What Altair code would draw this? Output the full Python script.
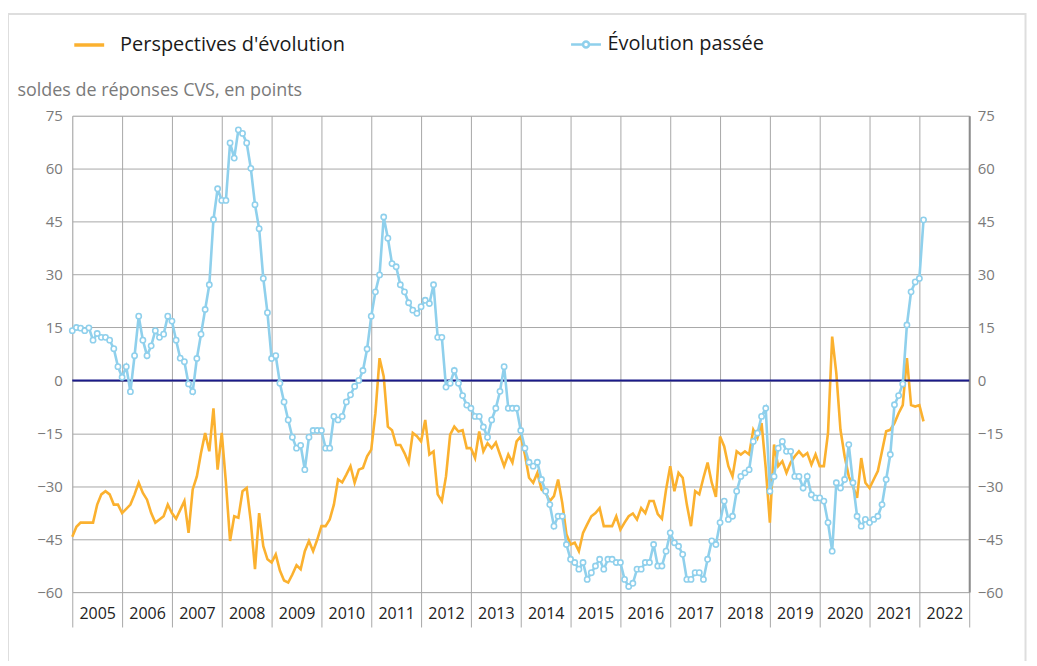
import altair as alt
import pandas as pd

FONT = "Open Sans"
ORANGE = "#fbb12f"
BLUE = "#8fd0ec"
NAVY = "#1a1a8a"
GRID = "#a8a8a8"

series_orange = "Perspectives d'évolution"
series_blue = "Évolution passée"

# Perspectives d'évolution (monthly, Jan 2005 - Feb 2022)
perspectives = [
    -44.3, -41.5, -40.3, -40.3, -40.3, -40.3, -35.2, -32.3, -31.4, -32.3, -35.2, -35.2,
    -37.6, -36.4, -35.2, -32.3, -29.0, -31.9, -33.8, -37.6, -40.3, -39.4, -38.5, -35.2,
    -37.6, -39.2, -36.7, -34.2, -43.2, -30.9, -27.2, -20.6, -14.9, -20.1, -7.9, -25.3,
    -14.9, -29.0, -45.5, -38.5, -38.9, -31.4, -30.5, -40.0, -53.5, -37.6, -47.0, -50.7,
    -51.6, -49.3, -53.9, -56.7, -57.3, -55.0, -52.4, -53.5, -48.4, -45.5, -48.4, -45.1,
    -41.3, -41.3, -39.4, -35.2, -28.1, -28.9, -26.7, -24.3, -29.0, -25.3, -24.8, -21.5,
    -19.6, -9.3, 6.3, 1.1, -13.1, -14.1, -18.3, -18.3, -20.6, -23.4, -14.9, -15.8,
    -17.3, -11.2, -21.0, -20.1, -32.3, -34.2, -27.2, -15.4, -13.1, -14.5, -14.1, -19.2,
    -19.2, -22.0, -14.5, -20.1, -17.8, -19.2, -17.6, -21.0, -24.3, -21.0, -23.3, -17.3,
    -15.9, -21.0, -27.6, -29.0, -26.2, -30.9, -31.9, -34.2, -32.8, -28.1, -34.7, -43.6,
    -46.5, -46.0, -48.4, -43.2, -40.8, -38.5, -37.6, -36.2, -41.3, -41.3, -41.3, -38.5,
    -42.3, -40.3, -38.5, -37.7, -39.4, -36.2, -37.6, -34.2, -34.2, -37.9, -39.2, -30.9,
    -24.3, -31.4, -26.2, -27.6, -35.2, -41.3, -31.4, -32.3, -27.6, -23.3, -29.0, -33.0,
    -15.9, -18.7, -24.3, -27.2, -20.1, -21.0, -20.1, -21.0, -14.0, -16.3, -12.1, -24.8,
    -40.3, -18.2, -24.3, -22.9, -26.2, -23.3, -21.5, -20.1, -21.5, -20.6, -23.9, -21.0,
    -24.3, -24.3, -14.9, 12.4, 2.0, -14.0, -21.5, -27.2, -30.0, -33.3, -22.0, -29.0,
    -30.5, -28.1, -25.7, -20.1, -14.4, -14.0, -12.1, -9.3, -7.0, 6.3, -7.0, -7.4,
    -7.0, -11.6,
]

# Évolution passée (monthly, Jan 2005 - Feb 2022)
passee = [
    14.1, 15.0, 14.8, 14.1, 14.9, 11.4, 13.3, 12.2, 12.2, 11.4, 9.0, 3.9,
    0.9, 3.9, -3.2, 7.0, 18.2, 11.4, 7.0, 9.8, 14.1, 12.2, 13.1, 18.2,
    16.8, 11.4, 6.3, 5.3, -1.0, -3.2, 6.2, 13.1, 20.1, 27.1, 45.6, 54.3,
    51.0, 51.0, 67.3, 63.0, 71.0, 70.0, 67.3, 60.1, 49.8, 43.0, 28.9, 19.2,
    6.2, 7.0, -0.8, -6.1, -11.2, -16.1, -19.2, -18.4, -25.3, -16.1, -14.2, -14.2,
    -14.2, -19.2, -19.2, -10.2, -11.2, -10.2, -6.1, -4.1, -1.7, 0.0, 2.8, 8.9,
    18.2, 25.1, 29.9, 46.3, 40.3, 33.1, 32.2, 27.1, 25.1, 22.0, 19.9, 19.0,
    20.9, 22.7, 21.8, 27.1, 12.2, 12.2, -1.9, -0.8, 2.8, -0.8, -4.3, -7.0,
    -7.9, -10.2, -10.2, -13.2, -16.1, -11.2, -7.9, -3.1, 3.9, -7.9, -7.9, -7.9,
    -14.2, -19.2, -23.2, -24.3, -23.2, -28.1, -31.4, -35.2, -41.3, -38.5, -38.5, -46.5,
    -50.7, -51.6, -53.5, -51.6, -56.4, -54.5, -52.6, -50.7, -53.5, -50.7, -50.7, -51.6,
    -51.6, -56.4, -58.4, -57.5, -53.5, -53.5, -51.6, -51.6, -46.5, -52.6, -52.6, -48.4,
    -43.2, -46.0, -47.0, -49.3, -56.4, -56.4, -54.5, -54.5, -56.4, -50.7, -45.5, -46.5,
    -40.3, -34.2, -39.4, -38.5, -31.4, -27.2, -26.2, -25.3, -17.3, -14.9, -10.2, -7.9,
    -31.4, -27.2, -19.2, -17.3, -20.1, -20.1, -27.2, -27.2, -30.5, -27.2, -32.4, -33.3,
    -33.3, -34.2, -40.3, -48.4, -29.0, -30.5, -28.1, -18.2, -29.0, -38.5, -41.3, -39.4,
    -40.3, -39.4, -38.5, -35.2, -28.1, -21.0, -6.9, -4.3, -1.0, 15.7, 25.1, 27.9,
    28.9, 45.5,
]

years = list(range(2005, 2024))
y_ticks = [-60, -45, -30, -15, 0, 15, 30, 45, 60, 75]

months = pd.period_range("2005-01", periods=len(passee), freq="M")
t = [m.year + (m.month - 1) / 12 for m in months]

df_o = pd.DataFrame({"t": t, "v": perspectives, "serie": series_orange})
df_b = pd.DataFrame({"t": t, "v": passee, "serie": series_blue})
df_zero = pd.DataFrame({"v": [0]})

W, H = 900, 478
xscale = alt.Scale(domain=[2005, 2023], nice=False, zero=False)
yscale = alt.Scale(domain=[-60, 75], nice=False, zero=False)

x_axis = alt.Axis(
    values=years, grid=True, gridColor=GRID, gridWidth=1, domain=False,
    ticks=True, tickSize=35, tickColor=GRID, tickWidth=1,
    labelExpr="datum.value == 2023 ? '' : format(datum.value, 'd')",
    labelOffset=25, labelPadding=-14, labelFontSize=16, labelColor="#222",
    labelFont=FONT, labelBaseline="middle", labelFlush=False, labelOverlap=False,
    title=None,
)

y_left = alt.Axis(
    values=y_ticks, grid=True, gridColor=GRID, gridWidth=1, domain=False,
    ticks=False, labelPadding=10, labelFontSize=15, labelColor="#7a7a7a",
    labelFont=FONT, title="soldes de réponses CVS, en points", titleAngle=0,
    titleAlign="left", titleBaseline="middle", titleX=-55.5, titleY=-25,
    titleFont=FONT, titleFontSize=18, titleFontWeight="normal", titleColor="#7a7a7a",
)

y_right = alt.Axis(
    values=y_ticks, orient="right", grid=False, domain=True, domainColor="#8c8c8c",
    domainWidth=2, ticks=False, labelPadding=8, labelFontSize=15,
    labelColor="#7a7a7a", labelFont=FONT, title=None,
)

X = alt.X("t:Q", scale=xscale, axis=x_axis)
Y_LEFT = alt.Y("v:Q", scale=yscale, axis=y_left)

orange_line = alt.Chart(df_o).mark_line(strokeWidth=2.6).encode(
    x=X,
    y=Y_LEFT,
    color=alt.Color(
        "serie:N",
        scale=alt.Scale(domain=[series_orange], range=[ORANGE]),
        legend=alt.Legend(
            orient="none", legendX=0, legendY=-88, title=None,
            symbolType="M-1,0H1", symbolSize=900, symbolStrokeWidth=3.5,
            labelFont=FONT, labelFontSize=20, labelColor="#1a1a1a", labelOffset=14,
            labelLimit=0,
        ),
    ),
)

blue_line = alt.Chart(df_b).mark_line(
    strokeWidth=2.6,
    point=alt.OverlayMarkDef(filled=False, fill="white", size=28, strokeWidth=1.6),
).encode(
    x=X,
    y=Y_LEFT,
    stroke=alt.Stroke(
        "serie:N",
        scale=alt.Scale(domain=[series_blue], range=[BLUE]),
        legend=alt.Legend(
            orient="none", legendX=499, legendY=-88, title=None,
            symbolType="M-1,0H-0.2M0.2,0H1M0.2,0A0.2,0.2,0,1,1,-0.2,0A0.2,0.2,0,1,1,0.2,0",
            symbolSize=900, symbolStrokeWidth=2.5, symbolFillColor="white",
            labelFont=FONT, labelFontSize=20, labelColor="#1a1a1a", labelOffset=5,
            labelLimit=0,
        ),
    ),
)

zero_rule = alt.Chart(df_zero).mark_rule(color=NAVY, strokeWidth=2).encode(y=Y_LEFT)

frame = alt.Chart(df_zero).mark_rect(
    fill="transparent", stroke="#dedede", strokeWidth=2
).encode(
    x=alt.value(-64.5), x2=alt.value(956.5), y=alt.value(-102), y2=alt.value(580)
)

right_axis_layer = alt.Chart(df_zero).mark_rule(opacity=0).encode(
    y=alt.Y("v:Q", scale=yscale, axis=y_right)
)

left = alt.layer(frame, orange_line, zero_rule, blue_line)

chart = alt.layer(left, right_axis_layer).resolve_scale(
    y="independent", color="independent", stroke="independent"
).properties(
    width=W, height=H,
    autosize=alt.AutoSizeParams(type="none"),
    padding={"left": 64.5, "top": 107, "right": 60, "bottom": 68},
).configure_view(stroke=None).configure(background="white")

chart.save("out.html", embed_options={"renderer": "svg", "actions": False})
